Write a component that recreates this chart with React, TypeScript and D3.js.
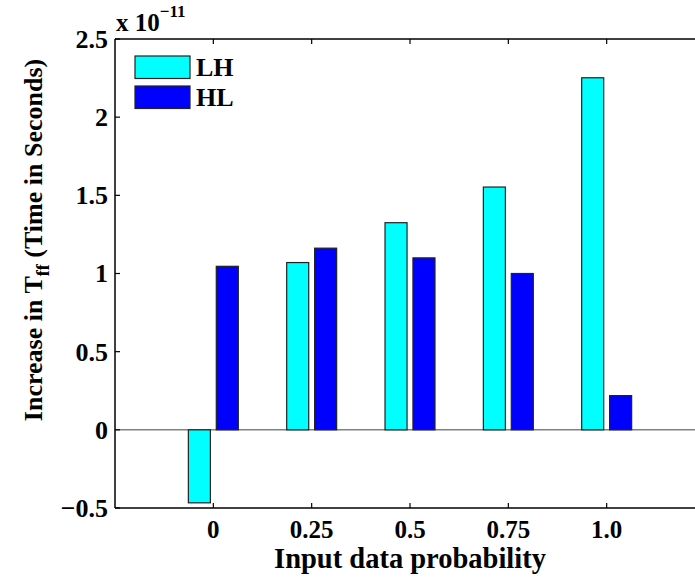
import React from "react";
import * as d3 from "d3";

const categories = ["0", "0.25", "0.5", "0.75", "1.0"];
const seriesNames = ["LH", "HL"];
const lhValues = [-0.467, 1.07, 1.325, 1.553, 2.252];
const hlValues = [1.046, 1.162, 1.1, 1.0, 0.219];
const yTicks = [-0.5, 0, 0.5, 1, 1.5, 2, 2.5];
const yTickLabels = ["\u22120.5", "0", "0.5", "1", "1.5", "2", "2.5"];
const colors = ["#00FFFF", "#0000FF"];

const W = 695;
const H = 577;
const font = "'Liberation Serif', 'Times New Roman', serif";

export default function App() {
  const x = d3.scaleLinear().domain([0, categories.length + 1]).range([115, 705]);
  const y = d3.scaleLinear().domain([-0.5, 2.5]).range([508, 39]);
  const barW = 0.224;
  const off = 0.142;
  const series = [lhValues, hlValues];
  const left = x(0);
  const right = x(categories.length + 1);
  const top = y(2.5);
  const bottom = y(-0.5);

  return (
    <svg width={W} height={H} style={{ position: "absolute", left: 0, top: 0, background: "#fff" }}>
      <rect x={0} y={0} width={W} height={H} fill="#fff" />
      {/* zero line */}
      <line x1={left} x2={right} y1={y(0)} y2={y(0)} stroke="#808080" strokeWidth={1.5} />
      {/* bars */}
      {series.map((vals, s) =>
        vals.map((v, i) => {
          const cx = x(i + 1) + (s === 0 ? -1 : 1) * (x(off) - x(0));
          const w = x(barW) - x(0);
          const y0 = y(Math.max(0, v));
          const y1 = y(Math.min(0, v));
          return (
            <rect
              key={`${s}-${i}`}
              x={cx - w / 2}
              y={y0}
              width={w}
              height={y1 - y0}
              fill={colors[s]}
              stroke="#222"
              strokeWidth={1.2}
            />
          );
        })
      )}
      {/* axes box */}
      <line x1={left} x2={right} y1={top} y2={top} stroke="#000" strokeWidth={1.5} />
      <line x1={left} x2={right} y1={bottom} y2={bottom} stroke="#000" strokeWidth={1.5} />
      <line x1={left} x2={left} y1={top} y2={bottom} stroke="#000" strokeWidth={1.5} />
      {/* x ticks */}
      {categories.map((c, i) => (
        <g key={c}>
          <line x1={x(i + 1)} x2={x(i + 1)} y1={bottom} y2={bottom - 5} stroke="#000" strokeWidth={1.2} />
          <line x1={x(i + 1)} x2={x(i + 1)} y1={top} y2={top + 5} stroke="#000" strokeWidth={1.2} />
          <text x={x(i + 1)} y={538} textAnchor="middle" fontFamily={font} fontWeight="bold" fontSize={25}>
            {c}
          </text>
        </g>
      ))}
      {/* y ticks */}
      {yTicks.map((t, i) => (
        <g key={t}>
          <line x1={left} x2={left + 5} y1={y(t)} y2={y(t)} stroke="#000" strokeWidth={1.2} />
          <text x={108} y={y(t)} dy="0.34em" textAnchor="end" fontFamily={font} fontWeight="bold" fontSize={26}>
            {yTickLabels[i]}
          </text>
        </g>
      ))}
      {/* exponent */}
      <text x={116} y={31} fontFamily={font} fontWeight="bold" fontSize={25}>
        x 10
        <tspan fontSize={17} dy={-14}>{"\u221211"}</tspan>
      </text>
      {/* x label */}
      <text x={410} y={568} textAnchor="middle" fontFamily={font} fontWeight="bold" fontSize={28.5}>
        Input data probability
      </text>
      {/* y label */}
      <text
        transform={`translate(42,240) rotate(-90)`}
        textAnchor="middle"
        fontFamily={font}
        fontWeight="bold"
        fontSize={26}
      >
        Increase in T
        <tspan fontSize={18} dy={7}>ff</tspan>
        <tspan dy={-7}> (Time in Seconds)</tspan>
      </text>
      {/* legend */}
      {seriesNames.map((n, i) => (
        <g key={n}>
          <rect x={135} y={56 + i * 30} width={55} height={22.5} fill={colors[i]} stroke="#222" strokeWidth={1.2} />
          <text x={196} y={76 + i * 30} fontFamily={font} fontWeight="bold" fontSize={26}>
            {n}
          </text>
        </g>
      ))}
    </svg>
  );
}
